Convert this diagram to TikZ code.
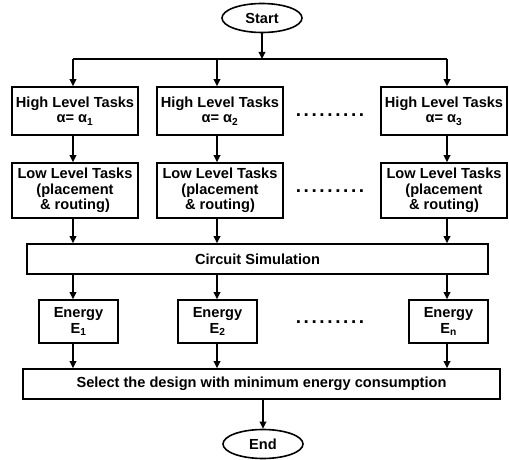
\documentclass[tikz,border=0pt]{standalone}
\usepackage{fontspec}
\setmainfont{Liberation Sans}
\usetikzlibrary{arrows.meta,shapes.geometric}
\begin{document}
\begin{tikzpicture}[x=1pt,y=-1pt,
  every node/.style={font=\fontsize{14.6}{15.5}\selectfont\bfseries, align=center, inner sep=0pt},
  box/.style={draw, line width=1.6pt, rectangle},
  hbox/.style={box, minimum width=126pt, minimum height=48pt},
  lbox/.style={box, minimum width=126pt, minimum height=55pt},
  ebox/.style={box, minimum width=79pt, minimum height=43pt},
  wbox/.style={box, minimum height=30pt},
  term/.style={draw, line width=1.6pt, ellipse, minimum width=80pt, minimum height=29pt},
  wire/.style={line width=2pt},
  arr/.style={wire, -{Triangle[length=7pt,width=6.5pt]}},
  bus/.style={line width=2.8pt},
  dotrow/.style={font=\fontsize{19}{15}\selectfont\bfseries}
]
\useasboundingbox (0,0) rectangle (509,460);
\newcommand\mydots{.\kern2.6pt.\kern2.6pt.\kern2.6pt.\kern2.6pt.\kern2.6pt.\kern2.6pt.\kern2.6pt.\kern2.6pt.}
% columns
\coordinate (c1) at (73,0);
\coordinate (c2) at (217,0);
\coordinate (c3) at (447,0);
\coordinate (cm) at (263,0);

\node[term] (start) at (262,18) {Start};
\coordinate (b1) at (73,59);
\coordinate (b3) at (447,59);
\coordinate (b2) at (217,59);

\node[hbox] (h1) at (75,111) {High Level Tasks\\α= α\textsubscript{1}};
\node[hbox] (h2) at (220,111) {High Level Tasks\\α= α\textsubscript{2}};
\node[hbox] (h3) at (444,111) {High Level Tasks\\α= α\textsubscript{3}};
\node[dotrow] (d1) at (330,115) {\mydots};

\node[lbox] (l1) at (75,190.5) {Low Level Tasks\\(placement\\\& routing)};
\node[lbox] (l2) at (220,190.5) {Low Level Tasks\\(placement\\\& routing)};
\node[lbox] (l3) at (444,190.5) {Low Level Tasks\\(placement\\\& routing)};
\node[dotrow] (d2) at (330,191) {\mydots};

\node[wbox, minimum width=461pt] (cs) at (257.5,259) {Circuit Simulation};

\node[ebox] (e1) at (78.5,321.5) {Energy\\E\textsubscript{1}};
\node[ebox] (e2) at (217.5,321.5) {Energy\\E\textsubscript{2}};
\node[ebox] (e3) at (448.5,321.5) {Energy\\E\textsubscript{n}};
\node[dotrow] (d3) at (330,322) {\mydots};

\node[wbox, minimum width=477pt] (sel) at (261.5,384) {Select the design with minimum energy consumption};
\node[term] (end) at (263,444) {End};

% bus
\draw[bus] (b1) -- (b3);
\draw[arr] (start.south) -- (start.south |- b1);
\draw[arr] (b1) -- (h1.north -| b1);
\draw[arr] (b2) -- (h2.north -| b2);
\draw[arr] (b3) -- (h3.north -| b3);

\draw[arr] (h1.south -| c1) -- (l1.north -| c1);
\draw[arr] (h2.south -| c2) -- (l2.north -| c2);
\draw[arr] (h3.south -| c3) -- (l3.north -| c3);

\draw[arr] (l1.south -| c1) -- (cs.north -| c1);
\draw[arr] (l2.south -| c2) -- (cs.north -| c2);
\draw[arr] (l3.south -| c3) -- (cs.north -| c3);

\draw[arr] (cs.south -| c1) -- (e1.north -| c1);
\draw[arr] (cs.south -| c2) -- (e2.north -| c2);
\draw[arr] (cs.south -| c3) -- (e3.north -| c3);

\draw[arr] (e1.south -| c1) -- (sel.north -| c1);
\draw[arr] (e2.south -| c2) -- (sel.north -| c2);
\draw[arr] (e3.south -| c3) -- (sel.north -| c3);

\draw[arr] (sel.south -| cm) -- (end.north -| cm);
\end{tikzpicture}
\end{document}
